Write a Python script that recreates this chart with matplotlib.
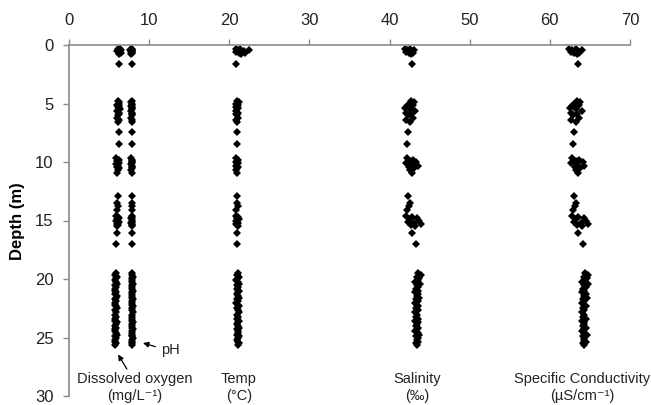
import matplotlib
matplotlib.use("Agg")
import matplotlib.pyplot as plt

plt.rcParams['font.family'] = ['Liberation Sans', 'DejaVu Sans']

# sampling depths (m), grouped as: surface, ~5 m, singles, ~10 m, singles, ~15 m, singles, 19.5-25.6 m
depth_m = [
    0.3, 0.35, 0.4, 0.45, 0.5, 0.55, 0.6, 0.65, 0.7, 0.8, 1.6,
    4.8, 4.9, 5.0, 5.1, 5.2, 5.3, 5.4, 5.5, 5.6, 5.8, 5.9, 6.0, 6.2, 6.4, 6.6,
    7.4, 8.5,
    9.7, 9.8, 9.9, 10.0, 10.1, 10.2, 10.3, 10.4, 10.5, 10.7, 10.9,
    12.9, 13.5, 13.8, 14.1,
    14.6, 14.7, 14.8, 14.9, 15.0, 15.1, 15.2, 15.3, 15.4, 15.5,
    16.1, 17.0,
    19.5, 19.65, 19.8, 19.95, 20.1, 20.25, 20.4, 20.55, 20.7, 20.85,
    21.0, 21.15, 21.3, 21.45, 21.6, 21.75, 21.9, 22.05, 22.2, 22.35,
    22.5, 22.65, 22.8, 23.1, 23.25, 23.4, 23.55, 23.7, 23.85, 24.0,
    24.15, 24.3, 24.45, 24.6, 24.75, 24.9, 25.05, 25.2, 25.35, 25.5,
    25.6,
]

dissolved_oxygen = [
    6.1, 6.4, 6.2, 6.5, 6.3, 6.0, 6.4, 6.2, 6.5, 6.3, 6.3,
    6.1, 6.3, 6.2, 6.0, 6.3, 6.1, 6.2, 6.4, 6.0, 6.2, 6.3, 6.1, 6.0, 6.2, 6.1,
    6.2, 6.2,
    5.9, 6.2, 6.0, 6.1, 6.2, 5.9, 6.1, 6.0, 6.2, 6.1, 6.0,
    6.1, 6.0, 6.1, 6.0,
    5.9, 6.1, 6.2, 6.0, 5.9, 6.2, 6.1, 6.0, 6.1, 6.0,
    6.0, 5.9,
    5.9, 5.8, 6.0, 5.9, 5.7, 5.9, 6.0, 5.8, 5.9, 5.8,
    5.7, 5.9, 5.8, 6.0, 5.9, 5.8, 5.9, 5.7, 5.8, 5.9,
    6.0, 5.8, 5.9, 5.8, 5.9, 5.7, 5.8, 6.0, 5.9, 5.8,
    5.9, 5.7, 5.8, 5.9, 6.0, 5.8, 5.9, 5.7, 5.8, 5.9,
    5.8,
]

ph = [
    7.7, 7.9, 7.8, 7.6, 7.8, 7.9, 7.7, 7.8, 7.8, 7.7, 7.8,
    7.8, 7.7, 7.9, 7.8, 7.7, 7.8, 7.9, 7.8, 7.7, 7.8, 7.9, 7.8, 7.7, 7.8, 7.8,
    7.8, 7.8,
    7.7, 7.9, 7.8, 7.8, 7.9, 7.7, 7.8, 7.9, 7.8, 7.7, 7.8,
    7.8, 7.8, 7.9, 7.8,
    7.8, 7.9, 7.7, 7.8, 7.9, 7.8, 7.7, 7.8, 7.9, 7.8,
    7.8, 7.8,
    7.9, 7.8, 8.0, 7.9, 7.8, 7.9, 8.0, 7.9, 7.8, 7.9,
    8.0, 7.9, 7.8, 7.9, 7.9, 8.0, 7.8, 7.9, 7.9, 8.0,
    7.8, 7.9, 8.0, 7.9, 7.8, 7.9, 7.9, 8.0, 7.8, 7.9,
    7.9, 8.0, 7.8, 7.9, 7.9, 7.8, 8.0, 7.9, 7.8, 7.9,
    7.9,
]

temp_c = [
    20.9, 21.3, 21.0, 22.4, 21.1, 21.8, 20.8, 22.0, 21.2, 21.5, 20.9,
    21.0, 21.2, 20.9, 21.1, 21.0, 20.8, 21.1, 21.0, 20.9, 21.1, 20.8, 21.0, 21.1, 20.9, 21.0,
    21.0, 21.0,
    20.9, 21.1, 21.0, 20.8, 21.1, 21.0, 20.9, 21.1, 21.0, 20.9, 21.0,
    21.0, 21.0, 21.1, 20.9,
    20.9, 21.1, 21.0, 21.2, 20.8, 21.0, 21.1, 20.9, 21.0, 21.1,
    21.0, 21.0,
    21.1, 21.0, 21.2, 21.1, 20.9, 21.1, 21.2, 21.0, 21.1, 21.0,
    21.2, 21.1, 21.0, 21.1, 21.2, 21.0, 21.1, 20.9, 21.1, 21.2,
    21.0, 21.1, 21.2, 21.0, 21.1, 21.0, 21.2, 21.1, 21.0, 21.1,
    21.2, 21.0, 21.1, 21.1, 21.0, 21.2, 21.1, 21.0, 21.1, 21.2,
    21.1,
]

salinity = [
    41.9, 42.6, 42.2, 43.1, 42.5, 42.8, 42.0, 42.9, 42.4, 42.7, 42.8,
    42.7, 43.0, 42.4, 42.9, 42.2, 42.6, 41.9, 42.5, 43.2, 42.1, 42.7, 42.3, 42.9, 42.0, 42.5,
    42.3, 42.2,
    42.2, 42.9, 42.5, 43.3, 42.0, 42.7, 43.5, 42.4, 43.0, 42.6, 42.8,
    42.3, 42.6, 42.4, 42.2,
    42.1, 42.8, 43.4, 42.5, 43.7, 42.3, 43.1, 43.9, 42.7, 43.2,
    42.8, 43.3,
    43.6, 43.9, 43.4, 43.7, 43.5, 43.2, 43.8, 43.4, 43.6, 43.3,
    43.5, 43.2, 43.6, 43.4, 43.7, 43.3, 43.5, 43.2, 43.4, 43.6,
    43.3, 43.5, 43.2, 43.4, 43.3, 43.6, 43.2, 43.5, 43.4, 43.3,
    43.6, 43.4, 43.2, 43.5, 43.7, 43.3, 43.5, 43.4, 43.6, 43.3,
    43.4,
]

sp_conductivity = [
    62.4, 63.3, 62.8, 64.0, 63.1, 63.5, 62.6, 63.6, 63.0, 63.4, 63.5,
    63.4, 63.8, 63.0, 63.6, 62.8, 63.3, 62.5, 63.2, 64.0, 62.7, 63.4, 62.9, 63.6, 62.6, 63.2,
    63.0, 62.9,
    62.8, 63.6, 63.2, 64.1, 62.6, 63.4, 64.3, 63.1, 63.8, 63.3, 63.5,
    63.0, 63.3, 63.1, 62.9,
    62.8, 63.5, 64.2, 63.2, 64.5, 63.0, 63.9, 64.7, 63.4, 64.0,
    63.5, 64.1,
    64.4, 64.8, 64.2, 64.6, 64.3, 64.0, 64.7, 64.2, 64.5, 64.1,
    64.3, 64.0, 64.5, 64.2, 64.6, 64.1, 64.3, 64.0, 64.2, 64.5,
    64.1, 64.3, 64.0, 64.2, 64.1, 64.5, 64.0, 64.3, 64.2, 64.1,
    64.5, 64.2, 64.0, 64.3, 64.6, 64.1, 64.3, 64.2, 64.5, 64.1,
    64.2,
]

series = [dissolved_oxygen, ph, temp_c, salinity, sp_conductivity]

x_ticks = [0, 10, 20, 30, 40, 50, 60, 70]
y_ticks = [0, 5, 10, 15, 20, 25, 30]

spine_color = '#8a8a8a'

fig = plt.figure(figsize=(6.51, 4.05), dpi=100)
ax = fig.add_axes([69 / 651, 9 / 405, 561 / 651, 351 / 405])

for values in series:
    ax.plot(values, depth_m, linestyle='none', marker='D', ms=3.6,
            color='black', markeredgewidth=0)

ax.set_xlim(0, 70)
ax.set_ylim(30, 0)
ax.set_xticks(x_ticks)
ax.set_yticks(y_ticks)
ax.xaxis.tick_top()

for side in ['right', 'bottom']:
    ax.spines[side].set_visible(False)
for side in ['left', 'top']:
    ax.spines[side].set_color(spine_color)
    ax.spines[side].set_linewidth(1.2)

ax.tick_params(axis='both', colors=spine_color, labelcolor='#222222',
               labelsize=12, length=4, width=1)
ax.tick_params(axis='x', pad=8)
ax.tick_params(axis='y', pad=7)

fig.text(18 / 651, 1 - 221 / 405, 'Depth (m)', rotation=90, fontsize=12,
         fontweight='bold', ha='center', va='center')

# variable labels under the columns
label_kw = dict(fontsize=10.5, ha='center', va='center', color='#222222',
                linespacing=1.25, clip_on=False)
ax.text(8.25, 29.25, 'Dissolved oxygen\n(mg/L\u207b\u00b9)', **label_kw)
ax.text(21.2, 29.25, 'Temp\n(°C)', **label_kw)
ax.text(43.4, 29.25, 'Salinity\n(‰)', **label_kw)
ax.text(64.0, 29.25, 'Specific Conductivity\n(µS/cm\u207b\u00b9)', **label_kw)

arrow_kw = dict(arrowstyle='-|>', color='black', lw=0.9, mutation_scale=8)
ax.annotate('', xy=(8.9, 25.4), xytext=(11.1, 25.85), arrowprops=arrow_kw)
ax.text(11.5, 26.1, 'pH', fontsize=10.5, ha='left', va='center', color='#222222')
ax.annotate('', xy=(5.95, 26.25), xytext=(7.4, 27.9), arrowprops=arrow_kw)

fig.savefig('out.png', dpi=100)
